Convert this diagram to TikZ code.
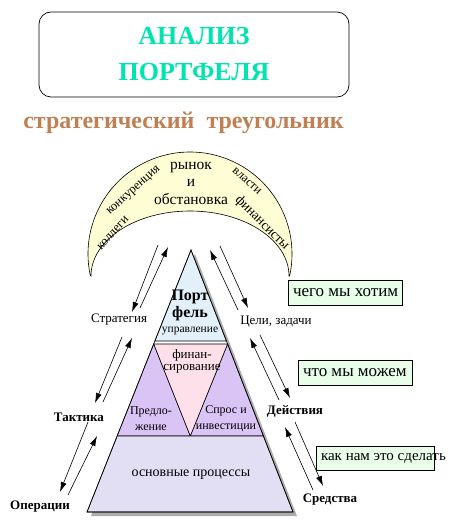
\documentclass[tikz,border=0pt]{standalone}
\usepackage{fontspec}
\setmainfont{Liberation Serif}
\usetikzlibrary{arrows.meta,calc}
\definecolor{titlegreen}{RGB}{0,228,176}
\definecolor{subbrown}{RGB}{192,128,84}
\definecolor{moon}{RGB}{255,253,212}
\definecolor{pblue}{RGB}{226,240,249}
\definecolor{ppink}{RGB}{253,224,234}
\definecolor{ppurple}{RGB}{218,196,246}
\definecolor{plav}{RGB}{226,222,244}
\definecolor{boxgreen}{RGB}{232,254,232}
\begin{document}
\begin{tikzpicture}[x=1pt,y=-1pt,
  arr/.style={-{Latex[length=10pt,width=6pt]},line width=0.6pt},
  lbl/.style={font=\fontsize{13}{15}\selectfont},
  blbl/.style={font=\fontsize{13}{15}\selectfont\bfseries},
  greenbox/.style={draw,line width=0.6pt,fill=boxgreen,inner sep=0pt,font=\fontsize{17}{19}\selectfont},
  part/.style={draw,line width=0.6pt},
  moontext/.style={font=\fontsize{12.5}{14}\selectfont,inner sep=0pt}]
\useasboundingbox (0,0) rectangle (473,521);

% title
\node[draw,line width=0.7pt,rounded corners=12pt,minimum width=310pt,minimum height=85pt,
  align=center,text=titlegreen,font=\fontsize{26}{36}\selectfont\bfseries] (title) at (194,54.5)
  {АНАЛИЗ\\ПОРТФЕЛЯ};
\node[text=subbrown,font=\fontsize{24}{27}\selectfont\bfseries] (sub) at (183.5,123)
  {стратегический\ \ треугольник};

% crescent
\draw[fill=moon,line width=0.6pt] (190,254) ++(168:102) arc[start angle=168,end angle=372.5,radius=102]
  -- (289,276) arc[start angle=360,end angle=180,x radius=99,y radius=65] -- cycle;
\node[align=center,font=\fontsize{15.5}{17.5}\selectfont,inner sep=0pt] (market) at (191,183)
  {рынок\\и\\обстановка};
\node[moontext,rotate=48] (coll) at (113,233) {коллеги};
\node[moontext,rotate=42] (comp) at (134,191) {конкуренция};
\node[moontext,rotate=-42] (pow) at (247,181) {власти};
\node[moontext,font=\fontsize{13.5}{15}\selectfont,rotate=-45] (fin) at (262,223) {финансисты};

% pyramid
\coordinate (apex) at (191,250);
\coordinate (BL) at (87,512);
\coordinate (BR) at (293,512);
\coordinate (uL) at ($(apex)!0.3473!(BL)$);
\coordinate (uR) at ($(apex)!0.3473!(BR)$);
\coordinate (mL) at ($(apex)!0.3588!(BL)$);
\coordinate (mR) at ($(apex)!0.3588!(BR)$);
\coordinate (lL) at ($(apex)!0.7099!(BL)$);
\coordinate (lR) at ($(apex)!0.7099!(BR)$);
\coordinate (mid) at ($(lL)!0.5!(lR)$);
\fill[gray!65] ($(apex)+(4,4)$) -- ($(BL)+(4,4)$) -- ($(BR)+(4,4)$) -- cycle;
\fill[white] (apex) -- (BL) -- (BR) -- cycle;
\draw[part,fill=pblue] (apex) -- (uL) -- (uR) -- cycle;
\draw[part,fill=ppurple] (mL) -- (lL) -- (mid) -- cycle;
\draw[part,fill=ppurple] (mR) -- (mid) -- (lR) -- cycle;
\draw[part,fill=ppink] (mL) -- (mR) -- (mid) -- cycle;
\draw[part,fill=plav] (lL) -- (BL) -- (BR) -- (lR) -- cycle;
\draw[line width=0.6pt] (apex) -- (BL) -- (BR) -- cycle;

\node[align=center,font=\fontsize{16}{17}\selectfont\bfseries,inner sep=0pt] (port) at (190,305) {Порт\\фель};
\node[font=\fontsize{11.5}{13}\selectfont,inner sep=0pt] (upr) at (190,331) {управление};
\node[align=center,font=\fontsize{13}{12}\selectfont,inner sep=0pt] (finance) at (192,361) {финан-\\сирование};
\node[align=center,font=\fontsize{12}{16}\selectfont,inner sep=0pt] (offer) at (151,419) {Предло-\\жение};
\node[align=center,font=\fontsize{12}{16}\selectfont,inner sep=0pt] (demand) at (226,419) {Спрос и\\инвестиции};
\node[font=\fontsize{14}{16}\selectfont,inner sep=0pt] (core) at (191,475) {основные процессы};

% labels
\node[lbl] (strat) at (119,320) {Стратегия};
\node[lbl] (goals) at (276,322) {Цели, задачи};
\node[blbl] (tact) at (79,417) {Тактика};
\node[blbl] (oper) at (40,507) {Операции};
\node[blbl] (act) at (295,411) {Действия};
\node[blbl] (means) at (330,500) {Средства};

% green boxes
\node[greenbox,minimum width=114pt,minimum height=25pt] (want) at (345,292.5)
  {\makebox[104pt][l]{чего мы хотим}};
\node[greenbox,minimum width=114pt,minimum height=25pt] (can) at (355,372.5)
  {\makebox[104pt][l]{что мы можем}};
\node[greenbox,font=\fontsize{15}{17}\selectfont,minimum width=118pt,minimum height=24pt] (how) at (375,458)
  {\makebox[108pt][l]{как нам это сделать}};

% arrow end points
\coordinate (a1s) at (158,245); \coordinate (a1e) at (132,312);
\coordinate (a2s) at (140,308); \coordinate (a2e) at (168,247);
\coordinate (a3s) at (122,337); \coordinate (a3e) at (95,403);
\coordinate (a4s) at (103,402); \coordinate (a4e) at (132,338);
\coordinate (a5s) at (88,422);  \coordinate (a5e) at (60,492);
\coordinate (a6s) at (68,495);  \coordinate (a6e) at (97,436);
\coordinate (b1s) at (220,246); \coordinate (b1e) at (248,308);
\coordinate (b2s) at (238,310); \coordinate (b2e) at (210,250);
\coordinate (b3s) at (260,335); \coordinate (b3e) at (290,398);
\coordinate (b4s) at (279,400); \coordinate (b4e) at (250,338);
\coordinate (b5s) at (295,422); \coordinate (b5e) at (323,486);
\coordinate (b6s) at (313,490); \coordinate (b6e) at (285,427);
\foreach \p in {a1,a2,a3,a4,a5,a6,b1,b2,b3,b4,b5,b6}
  \draw[arr] (\p s) -- (\p e);
\end{tikzpicture}
\end{document}
